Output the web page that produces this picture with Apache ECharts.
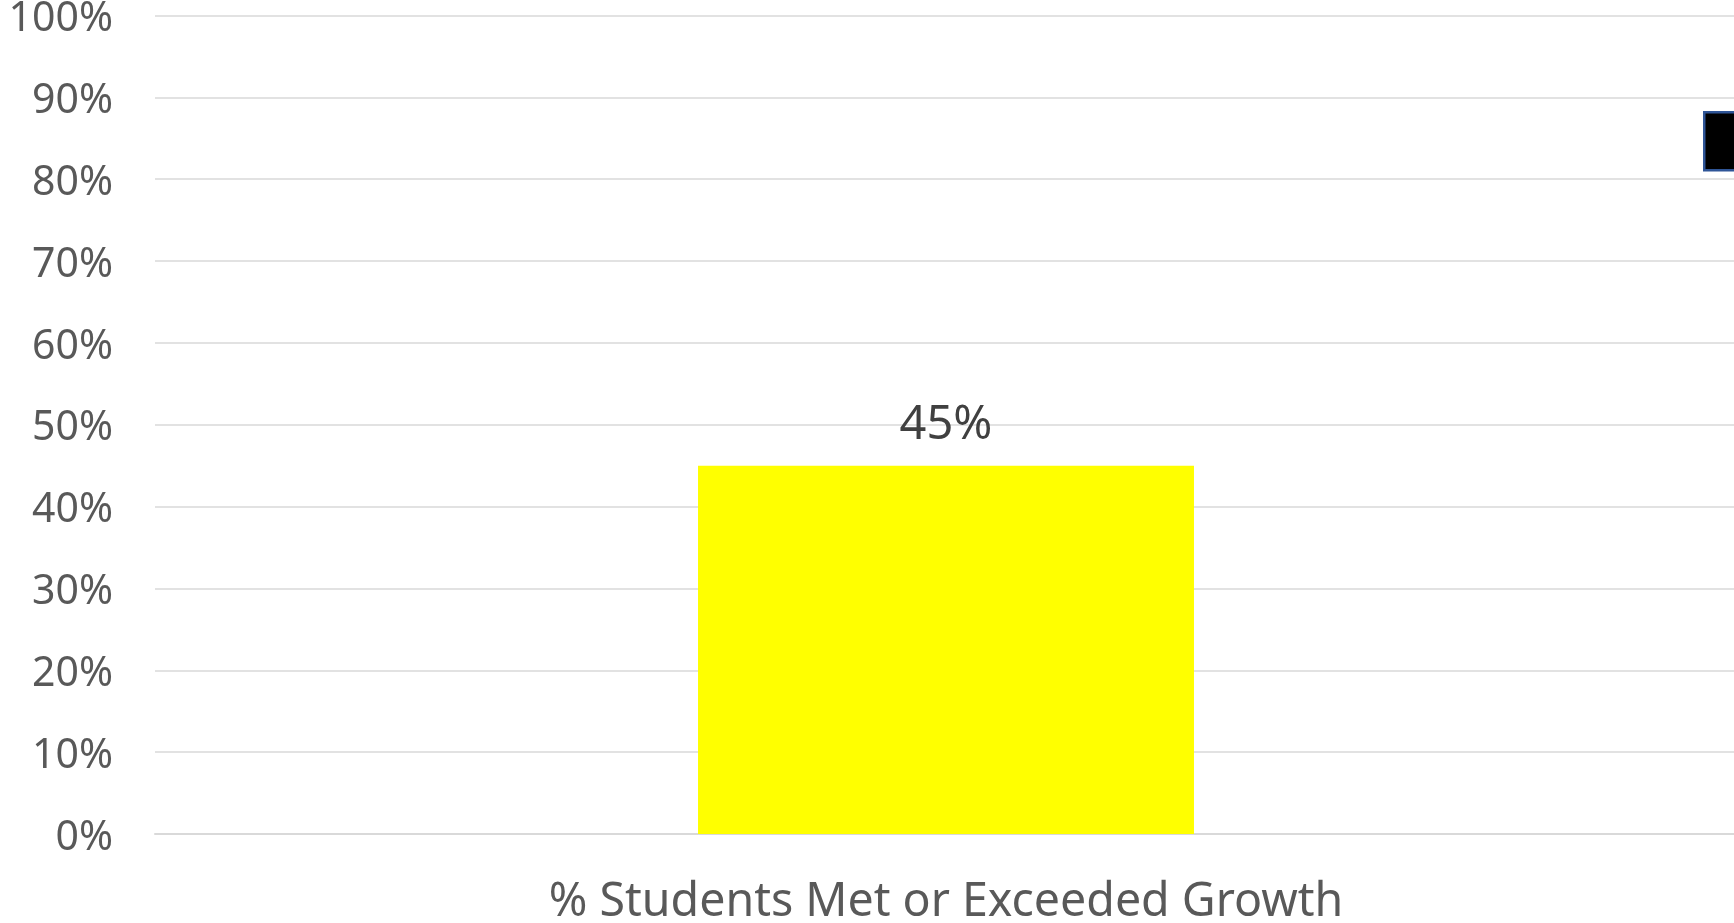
<!DOCTYPE html>
<html><head><meta charset="utf-8">
<script src="https://cdn.jsdelivr.net/npm/echarts@6/dist/echarts.min.js"></script>
<style>html,body{margin:0;padding:0;background:#fff}#c{width:1734px;height:923px}</style>
</head><body><div id="c"></div>
<script>
const categories = ['% Students Met or Exceeded Growth'];
const values = [45];
const yTicks = [0, 10, 20, 30, 40, 50, 60, 70, 80, 90, 100];

const chart = echarts.init(document.getElementById('c'));
chart.setOption({
  animation: false,
  textStyle: { fontFamily: 'Noto Sans' },
  grid: { left: 155, right: -3, top: 15.5, bottom: 89, containLabel: false, outerBoundsMode: 'none' },
  xAxis: {
    type: 'category', data: categories,
    axisLine: { show: true, lineStyle: { color: '#d9d9d9', width: 2 } },
    axisTick: { show: false },
    axisLabel: { color: '#595959', fontSize: 46.5, margin: 45, fontFamily: 'Noto Sans' }
  },
  yAxis: {
    type: 'value', min: yTicks[0], max: yTicks[yTicks.length - 1], interval: 10,
    axisLine: { show: false }, axisTick: { show: false },
    splitLine: { lineStyle: { color: '#d9d9d9', width: 1.5 } },
    axisLabel: { color: '#595959', fontSize: 41, margin: 42, verticalAlign: 'top', lineHeight: 8, formatter: v => v + '%', fontFamily: 'Noto Sans' }
  },
  series: [{
    type: 'bar', data: values, barWidth: '31.35%',
    itemStyle: { color: '#ffff00' },
    label: { show: true, position: 'top', distance: 17, color: '#404040', fontSize: 47, formatter: p => p.value + '%', fontFamily: 'Noto Sans' }
  }],
  graphic: [{
    type: 'rect', left: 1703, top: 111,
    shape: { width: 40, height: 58 },
    style: { fill: '#000000', stroke: '#2f5597', lineWidth: 2.5 }
  }]
});
</script></body></html>
